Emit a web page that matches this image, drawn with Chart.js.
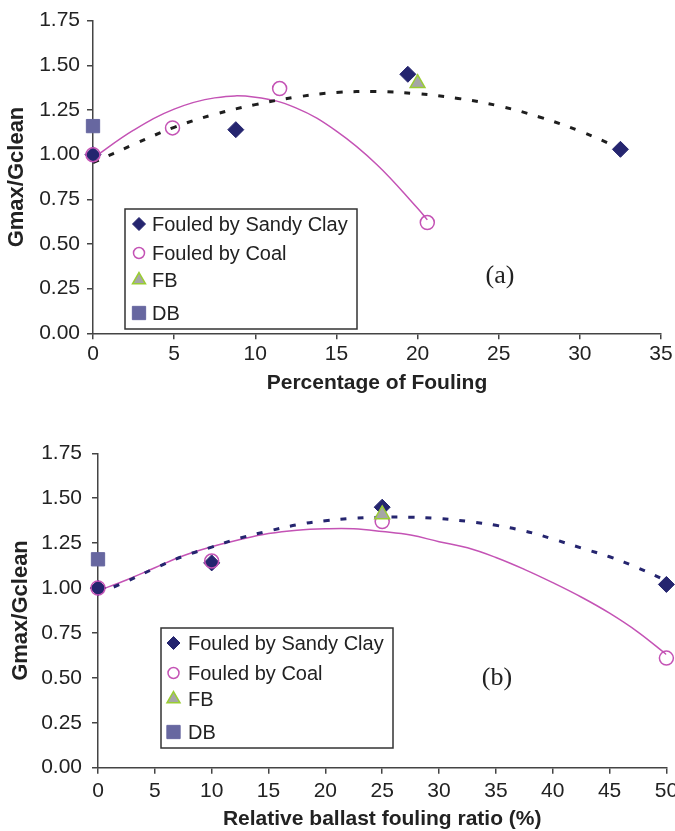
<!DOCTYPE html>
<html>
<head>
<meta charset="utf-8">
<script src="https://cdn.jsdelivr.net/npm/chart.js@4.4.0/dist/chart.umd.min.js"></script>
<style>
  html, body { margin: 0; padding: 0; background: #fff; width: 675px; height: 831px; overflow: hidden; }
  .panel { position: absolute; left: 0; }
</style>
</head>
<body>
<div class="panel" style="top:0"><canvas id="chartA" width="675" height="400"></canvas></div>
<div class="panel" style="top:415px"><canvas id="chartB" width="690" height="420"></canvas></div>
<script>
// (a) Gmax/Gclean vs percentage of fouling
const fouledXA = [0, 8.8, 19.4, 32.5];
const sandyClayA = [1.0, 1.14, 1.45, 1.03];
const coalXA = [0, 4.9, 11.5, 20.6];
const coalA = [1.0, 1.15, 1.37, 0.62];
const fbA = [{ x: 20, y: 1.4 }];
const dbA = [{ x: 0, y: 1.16 }];
const sandyTrendXA = [0, 2.5, 5, 7.5, 10, 12.5, 15, 17.5, 20, 22.5, 25, 27.5, 30, 32.5];
const sandyTrendA = [0.955, 1.057, 1.153, 1.226, 1.28, 1.322, 1.348, 1.353, 1.341, 1.315, 1.273, 1.211, 1.132, 1.035];
const coalTrendXA = [0, 2.5, 5, 7.5, 10, 12.5, 15, 17.5, 20, 20.6];
const coalTrendA = [0.98, 1.137, 1.255, 1.318, 1.322, 1.262, 1.132, 0.944, 0.7, 0.635];

// (b) Gmax/Gclean vs relative ballast fouling ratio
const ratioXB = [0, 10, 25, 50];
const sandyClayB = [1.0, 1.14, 1.45, 1.02];
const coalB = [1.0, 1.15, 1.37, 0.61];
const fbB = [{ x: 25, y: 1.41 }];
const dbB = [{ x: 0, y: 1.16 }];
const trendXB = [0, 2.5, 5, 7.5, 10, 12.5, 15, 17.5, 20, 22.5, 25, 27.5, 30, 32.5, 35, 37.5, 40, 42.5, 45, 47.5, 50];
const sandyTrendB = [0.97, 1.036, 1.11, 1.177, 1.228, 1.278, 1.317, 1.352, 1.375, 1.388, 1.394, 1.394, 1.387, 1.371, 1.349, 1.318, 1.273, 1.223, 1.174, 1.112, 1.04];
const coalTrendB = [0.985, 1.045, 1.113, 1.18, 1.23, 1.27, 1.303, 1.322, 1.33, 1.33, 1.315, 1.295, 1.258, 1.224, 1.17, 1.104, 1.03, 0.95, 0.86, 0.755, 0.63];

const yTicks = [0, 0.25, 0.5, 0.75, 1.0, 1.25, 1.5, 1.75];
const seriesNames = ["Fouled by Sandy Clay", "Fouled by Coal", "FB", "DB"];

const NAVY = "#25256f";
const PINK = "#c453b5";
const SLATE = "#6767a0";
const FONT = "'Liberation Sans', Arial, sans-serif";

const toPoints = (xs, ys) => xs.map((x, i) => ({ x: x, y: ys[i] }));

const markers = [
  { style: "rectRot", fill: NAVY, stroke: NAVY, width: 1, r: 8, lr: 6.5 },
  { style: "circle", fill: "rgba(0,0,0,0)", stroke: PINK, width: 1.5, r: 7, lr: 5.5 },
  { style: "triangle", fill: "#a6a6a6", stroke: "#9acd32", width: 1.5, r: 8.5, lr: 7.5 },
  { style: "rect", fill: SLATE, stroke: SLATE, width: 1, r: 9.4, lr: 9.4 },
];

function drawMarker(ctx, m, x, y, r) {
  ctx.save();
  ctx.beginPath();
  if (m.style === "rectRot") {
    ctx.moveTo(x - r, y);
    ctx.lineTo(x, y - r);
    ctx.lineTo(x + r, y);
    ctx.lineTo(x, y + r);
    ctx.closePath();
  } else if (m.style === "circle") {
    ctx.arc(x, y, r, 0, Math.PI * 2);
  } else if (m.style === "triangle") {
    ctx.moveTo(x, y - r);
    ctx.lineTo(x + r * 0.866, y + r * 0.5);
    ctx.lineTo(x - r * 0.866, y + r * 0.5);
    ctx.closePath();
  } else {
    const s = r * Math.SQRT1_2;
    ctx.rect(x - s, y - s, 2 * s, 2 * s);
  }
  ctx.fillStyle = m.fill;
  ctx.fill();
  ctx.lineWidth = m.width;
  ctx.strokeStyle = m.stroke;
  ctx.stroke();
  ctx.restore();
}

// legend box inside the plot plus the panel tag
const boxLegend = {
  id: "boxLegend",
  afterDraw(chart, args, opts) {
    const ctx = chart.ctx;
    const [x1, y1, x2, y2] = opts.box;
    ctx.save();
    ctx.fillStyle = "#fff";
    ctx.fillRect(x1, y1, x2 - x1, y2 - y1);
    ctx.lineWidth = 1.5;
    ctx.strokeStyle = "#333";
    ctx.strokeRect(x1, y1, x2 - x1, y2 - y1);
    ctx.font = "20px " + FONT;
    ctx.fillStyle = "#222";
    ctx.textBaseline = "middle";
    seriesNames.forEach((name, i) => {
      drawMarker(ctx, markers[i], opts.markerX, opts.rows[i], markers[i].lr);
      ctx.fillText(name, opts.textX, opts.rows[i] + 1);
    });
    ctx.font = "26px 'Liberation Serif', 'Times New Roman', serif";
    ctx.textAlign = "center";
    ctx.fillText(opts.tag, opts.tagX, opts.tagY);
    ctx.restore();
  },
};

function makeChart(id, cfg) {
  const datasets = [
    {
      data: toPoints(cfg.sandyX, cfg.sandy),
      pointStyle: "rectRot", pointRadius: markers[0].r,
      backgroundColor: NAVY, borderColor: NAVY, pointBorderWidth: 1,
      showLine: false, clip: false, order: 4,
    },
    {
      data: toPoints(cfg.coalX, cfg.coal),
      pointStyle: "circle", pointRadius: markers[1].r,
      backgroundColor: "rgba(0,0,0,0)", borderColor: PINK, pointBorderWidth: 1.5,
      showLine: false, clip: false, order: 3,
    },
    {
      data: cfg.fb,
      pointStyle: "triangle", pointRadius: markers[2].r,
      backgroundColor: "#a6a6a6", borderColor: "#9acd32", pointBorderWidth: 1.5,
      showLine: false, clip: false, order: 2,
    },
    {
      data: cfg.db,
      pointStyle: "rect", pointRadius: markers[3].r,
      backgroundColor: SLATE, borderColor: SLATE, pointBorderWidth: 1,
      showLine: false, clip: false, order: 1,
    },
    {
      data: toPoints(cfg.sandyTrendX, cfg.sandyTrend),
      showLine: true, pointRadius: 0, borderColor: cfg.trendColor, borderWidth: 3,
      borderDash: [6, 11], tension: 0.4, order: 5,
    },
    {
      data: toPoints(cfg.coalTrendX, cfg.coalTrend),
      showLine: true, pointRadius: 0, borderColor: PINK, borderWidth: 1.5,
      tension: 0.4, order: 6,
    },
  ];

  return new Chart(document.getElementById(id), {
    type: "scatter",
    data: { datasets: datasets },
    options: {
      responsive: false,
      animation: false,
      events: [],
      layout: { padding: { top: cfg.padTop, right: cfg.padRight, left: 0, bottom: 0 } },
      plugins: {
        legend: { display: false },
        tooltip: { enabled: false },
        boxLegend: cfg.legend,
      },
      scales: {
        x: {
          type: "linear",
          min: 0,
          max: cfg.xMax,
          afterFit: (s) => { s.height = cfg.xAxisHeight; },
          ticks: { stepSize: 5, padding: cfg.xTickPad, color: "#222", font: { family: FONT, size: 21 } },
          grid: { drawOnChartArea: false, drawTicks: true, tickLength: 6, color: "#444", lineWidth: 1.5 },
          border: { display: true, color: "#444", width: 1.5 },
          title: {
            display: true,
            text: cfg.xTitle,
            color: "#222",
            font: { family: FONT, size: 21, weight: "bold" },
            padding: { top: 0, bottom: cfg.xTitlePad },
          },
        },
        y: {
          min: 0,
          max: 1.75,
          afterFit: (s) => { s.width = cfg.yAxisWidth; },
          afterBuildTicks: (s) => { s.ticks = yTicks.map((v) => ({ value: v })); },
          ticks: {
            padding: cfg.yTickPad,
            color: "#222",
            font: { family: FONT, size: 21 },
            callback: (v) => Number(v).toFixed(2),
          },
          grid: { drawOnChartArea: false, drawTicks: true, tickLength: 6, color: "#444", lineWidth: 1.5 },
          border: { display: true, color: "#444", width: 1.5 },
          title: {
            display: true,
            text: "Gmax/Gclean",
            color: "#222",
            font: { family: FONT, size: 22, weight: "bold" },
            padding: { top: cfg.yTitlePad, bottom: 0 },
          },
        },
      },
    },
    plugins: [boxLegend],
  });
}

makeChart("chartA", {
  sandyX: fouledXA, sandy: sandyClayA,
  coalX: coalXA, coal: coalA,
  fb: fbA, db: dbA,
  sandyTrendX: sandyTrendXA, sandyTrend: sandyTrendA,
  coalTrendX: coalTrendXA, coalTrend: coalTrendA,
  trendColor: "#1e1e1e",
  xMax: 35,
  xTitle: "Percentage of Fouling",
  padTop: 20.7, padRight: 14,
  xAxisHeight: 66.7, yAxisWidth: 93,
  xTickPad: 2, xTitlePad: 4, yTickPad: 7, yTitlePad: 4,
  legend: {
    box: [125, 209, 357, 329],
    rows: [224, 253, 280, 313],
    markerX: 139, textX: 152,
    tag: "(a)", tagX: 500, tagY: 276,
  },
});

makeChart("chartB", {
  sandyX: ratioXB, sandy: sandyClayB,
  coalX: ratioXB, coal: coalB,
  fb: fbB, db: dbB,
  sandyTrendX: trendXB, sandyTrend: sandyTrendB,
  coalTrendX: trendXB, coalTrend: coalTrendB,
  trendColor: NAVY,
  xMax: 50,
  xTitle: "Relative ballast fouling ratio (%)",
  padTop: 38.3, padRight: 23.6,
  xAxisHeight: 67.3, yAxisWidth: 98,
  xTickPad: 5, xTitlePad: 3, yTickPad: 10, yTitlePad: 8,
  legend: {
    box: [161, 213, 393, 333],
    rows: [228, 258, 284, 317],
    markerX: 173.5, textX: 188,
    tag: "(b)", tagX: 497, tagY: 263,
  },
});
</script>
</body>
</html>
